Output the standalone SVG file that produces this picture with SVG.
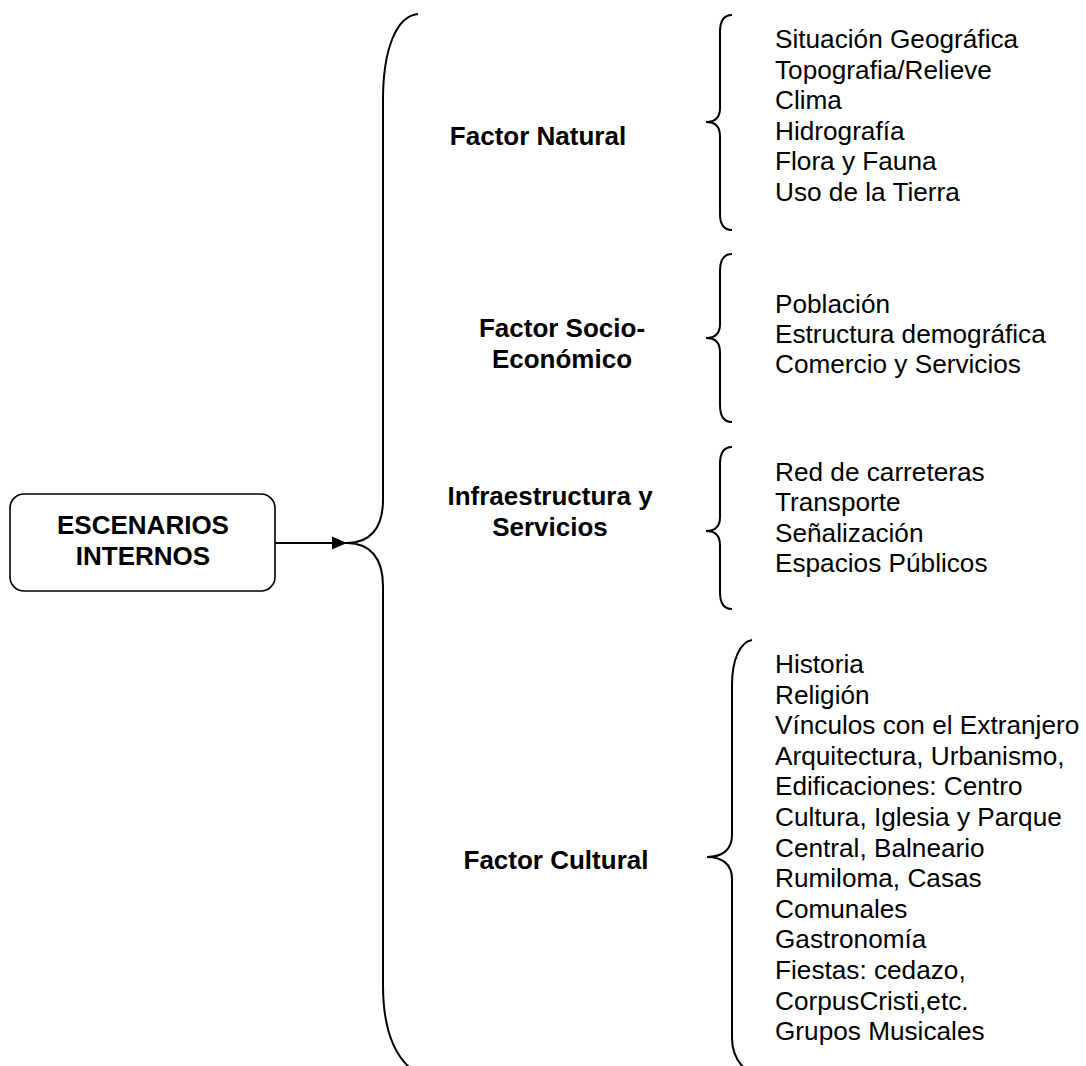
<svg xmlns="http://www.w3.org/2000/svg" width="1086" height="1066" viewBox="0 0 1086 1066">
<defs>
<style>
.t{font-family:"Liberation Sans",Arial,sans-serif;font-size:26.2px;fill:#000}
.b{font-family:"Liberation Sans",Arial,sans-serif;font-size:26px;font-weight:bold;fill:#000;text-anchor:middle}
.br{fill:none;stroke:#000;stroke-width:2}
</style>
<marker id="ah" markerWidth="16" markerHeight="14" refX="15" refY="7" orient="auto" markerUnits="userSpaceOnUse">
<path d="M0,0.5 L15,7 L0,13.5 Z" fill="#000"/>
</marker>
</defs>
<rect width="1086" height="1066" fill="#fff"/>
<g id="root">
<rect x="10" y="494" width="265" height="97" rx="14" ry="14" fill="#fff" stroke="#000" stroke-width="1.6"/>
<text class="b"><tspan x="143" y="534">ESCENARIOS</tspan><tspan x="143" y="565">INTERNOS</tspan></text>
</g>
<g id="connectors">
<line x1="275" y1="543" x2="347" y2="543" stroke="#000" stroke-width="1.8" marker-end="url(#ah)"/>
<path class="br" d="M418 14 C396 16 383 50 383 100 L383 500 C383 528 370 543 347 543 C370 543 383 558 383 586 L383 985 C383 1025 392 1052 410 1068"/>
<path class="br" d="M732 15 C724 15 720 21 720 32 L720 108 C720 117 715 122 706 122 C715 122 720 127 720 136 L720 214 C720 225 724 230 732 230"/>
<path class="br" d="M732 254 C724 254 720 260 720 271 L720 324 C720 333 715 338 706 338 C715 338 720 343 720 352 L720 405 C720 416 724 422 732 422"/>
<path class="br" d="M732 447 C724 447 720 453 720 464 L720 517 C720 526 715 531 706 531 C715 531 720 536 720 545 L720 592 C720 603 724 609 732 609"/>
<path class="br" d="M752 640 C740 642 732 660 732 685 L732 835 C732 850 722 857 707 857 C722 857 732 864 732 879 L732 1038 C732 1050 736 1060 744 1068"/>
</g>
<g id="natural">
<text class="b" x="538" y="145">Factor Natural</text>
<text class="t"><tspan x="775" y="48">Situación Geográfica</tspan><tspan x="775" dy="30.6">Topografia/Relieve</tspan><tspan x="775" dy="30.6">Clima</tspan><tspan x="775" dy="30.6">Hidrografía</tspan><tspan x="775" dy="30.6">Flora y Fauna</tspan><tspan x="775" dy="30.6">Uso de la Tierra</tspan></text>
</g>
<g id="socio">
<text class="b"><tspan x="562" y="337">Factor Socio-</tspan><tspan x="562" dy="30.6">Económico</tspan></text>
<text class="t"><tspan x="775" y="313">Población</tspan><tspan x="775" dy="30.2">Estructura demográfica</tspan><tspan x="775" dy="30.2">Comercio y Servicios</tspan></text>
</g>
<g id="infra">
<text class="b"><tspan x="550" y="505">Infraestructura y</tspan><tspan x="550" dy="30.6">Servicios</tspan></text>
<text class="t"><tspan x="775" y="481">Red de carreteras</tspan><tspan x="775" dy="30.3">Transporte</tspan><tspan x="775" dy="30.3">Señalización</tspan><tspan x="775" dy="30.3">Espacios Públicos</tspan></text>
</g>
<g id="cultural">
<text class="b" x="556" y="869">Factor Cultural</text>
<text class="t"><tspan x="775" y="673">Historia</tspan><tspan x="775" dy="30.6">Religión</tspan><tspan x="775" dy="30.6">Vínculos con el Extranjero</tspan><tspan x="775" dy="30.6">Arquitectura, Urbanismo,</tspan><tspan x="775" dy="30.6">Edificaciones: Centro</tspan><tspan x="775" dy="30.6">Cultura, Iglesia y Parque</tspan><tspan x="775" dy="30.6">Central, Balneario</tspan><tspan x="775" dy="30.6">Rumiloma, Casas</tspan><tspan x="775" dy="30.6">Comunales</tspan><tspan x="775" dy="30.6">Gastronomía</tspan><tspan x="775" dy="30.6">Fiestas: cedazo,</tspan><tspan x="775" dy="30.6">CorpusCristi,etc.</tspan><tspan x="775" dy="30.6">Grupos Musicales</tspan></text>
</g>
</svg>
